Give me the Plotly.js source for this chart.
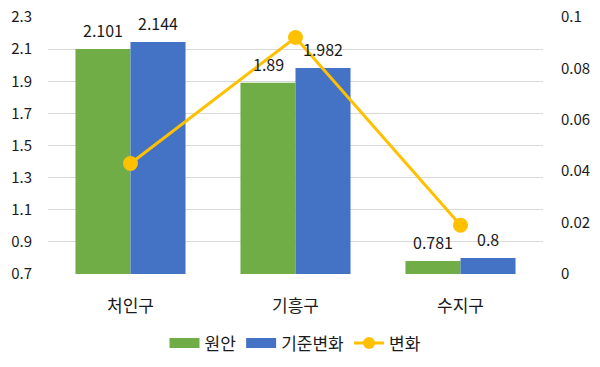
<!DOCTYPE html>
<html><head><meta charset="utf-8">
<script src="https://cdn.plot.ly/plotly-3.0.1.min.js"></script>
<style>html,body{margin:0;padding:0;background:#fff}#chart{width:600px;height:367px}</style>
</head><body><div id="chart"></div>
<script>
var categories = ['처인구', '기흥구', '수지구'];
var wonan = [2.101, 1.89, 0.781];
var gijun = [2.144, 1.982, 0.8];
var change = [0.043, 0.092, 0.019];
var leftTicks = [0.7, 0.9, 1.1, 1.3, 1.5, 1.7, 1.9, 2.1, 2.3];
var rightTicks = [0, 0.02, 0.04, 0.06, 0.08, 0.1];

var FONT = '"Noto Sans CJK KR", "Noto Sans", sans-serif';
var txt = '#1a1a1a';
var GREEN = '#70AD47', BLUE = '#4472C4', GOLD = '#FFC000';

var traces = [
  {type:'bar', name:'원안', x:categories, y:wonan, marker:{color:GREEN}, showlegend:false, hoverinfo:'skip'},
  {type:'bar', name:'기준변화', x:categories, y:gijun, marker:{color:BLUE}, showlegend:false, hoverinfo:'skip'},
  {type:'scatter', mode:'lines+markers', name:'변화', x:categories, y:change, yaxis:'y2',
   line:{color:GOLD, width:3}, marker:{color:GOLD, size:15}, cliponaxis:false, showlegend:false},
  // legend entries
  {type:'scatter', mode:'lines', name:'원안', x:[null], y:[null], line:{color:GREEN, width:10}, legendrank:1},
  {type:'scatter', mode:'lines', name:'기준변화', x:[null], y:[null], line:{color:BLUE, width:10}, legendrank:2},
  {type:'scatter', mode:'lines+markers', name:'변화', x:[null], y:[null], yaxis:'y2',
   line:{color:GOLD, width:3}, marker:{color:GOLD, size:12}, legendrank:3}
];

var annotations = [];
categories.forEach(function(c, i){
  annotations.push({x:c, y:wonan[i], xref:'x', yref:'y', text:String(wonan[i]), showarrow:false,
    xshift:-27.5, yshift:19, font:{size:16, color:txt, family:FONT}});
  annotations.push({x:c, y:gijun[i], xref:'x', yref:'y', text:String(gijun[i]), showarrow:false,
    xshift:27.5, yshift:19, font:{size:16, color:txt, family:FONT}});
});

var layout = {
  width:600, height:367,
  margin:{l:48, r:57, t:17, b:93, autoexpand:false},
  paper_bgcolor:'#fff', plot_bgcolor:'#fff',
  font:{family:FONT, color:txt, size:15},
  barmode:'group', bargap:0.333, bargroupgap:0,
  showlegend:true,
  annotations: annotations,
  legend:{orientation:'h', x:0.5, xanchor:'center', y:-0.27, yanchor:'middle',
          font:{size:17, color:txt, family:FONT}, traceorder:'normal', itemwidth:30},
  xaxis:{showgrid:false, zeroline:false, showline:false, ticks:'outside', ticklen:17,
         tickcolor:'rgba(0,0,0,0)', tickfont:{size:17, color:txt}, automargin:false},
  yaxis:{range:[0.7, 2.3], tickvals:leftTicks, ticktext:leftTicks.map(String),
         showgrid:true, gridcolor:'#D9D9D9', gridwidth:1, zeroline:false, showline:false, automargin:false,
         ticks:'outside', ticklen:12, tickcolor:'rgba(0,0,0,0)', tickfont:{size:15, color:txt}},
  yaxis2:{range:[0, 0.1], overlaying:'y', side:'right', tickvals:rightTicks, automargin:false,
          ticktext:rightTicks.map(String), showgrid:false, zeroline:false, showline:false,
          ticks:'outside', ticklen:14, tickcolor:'rgba(0,0,0,0)', tickfont:{size:15, color:txt}}
};

Plotly.newPlot('chart', traces, layout, {displayModeBar:false, staticPlot:true});
</script></body></html>
